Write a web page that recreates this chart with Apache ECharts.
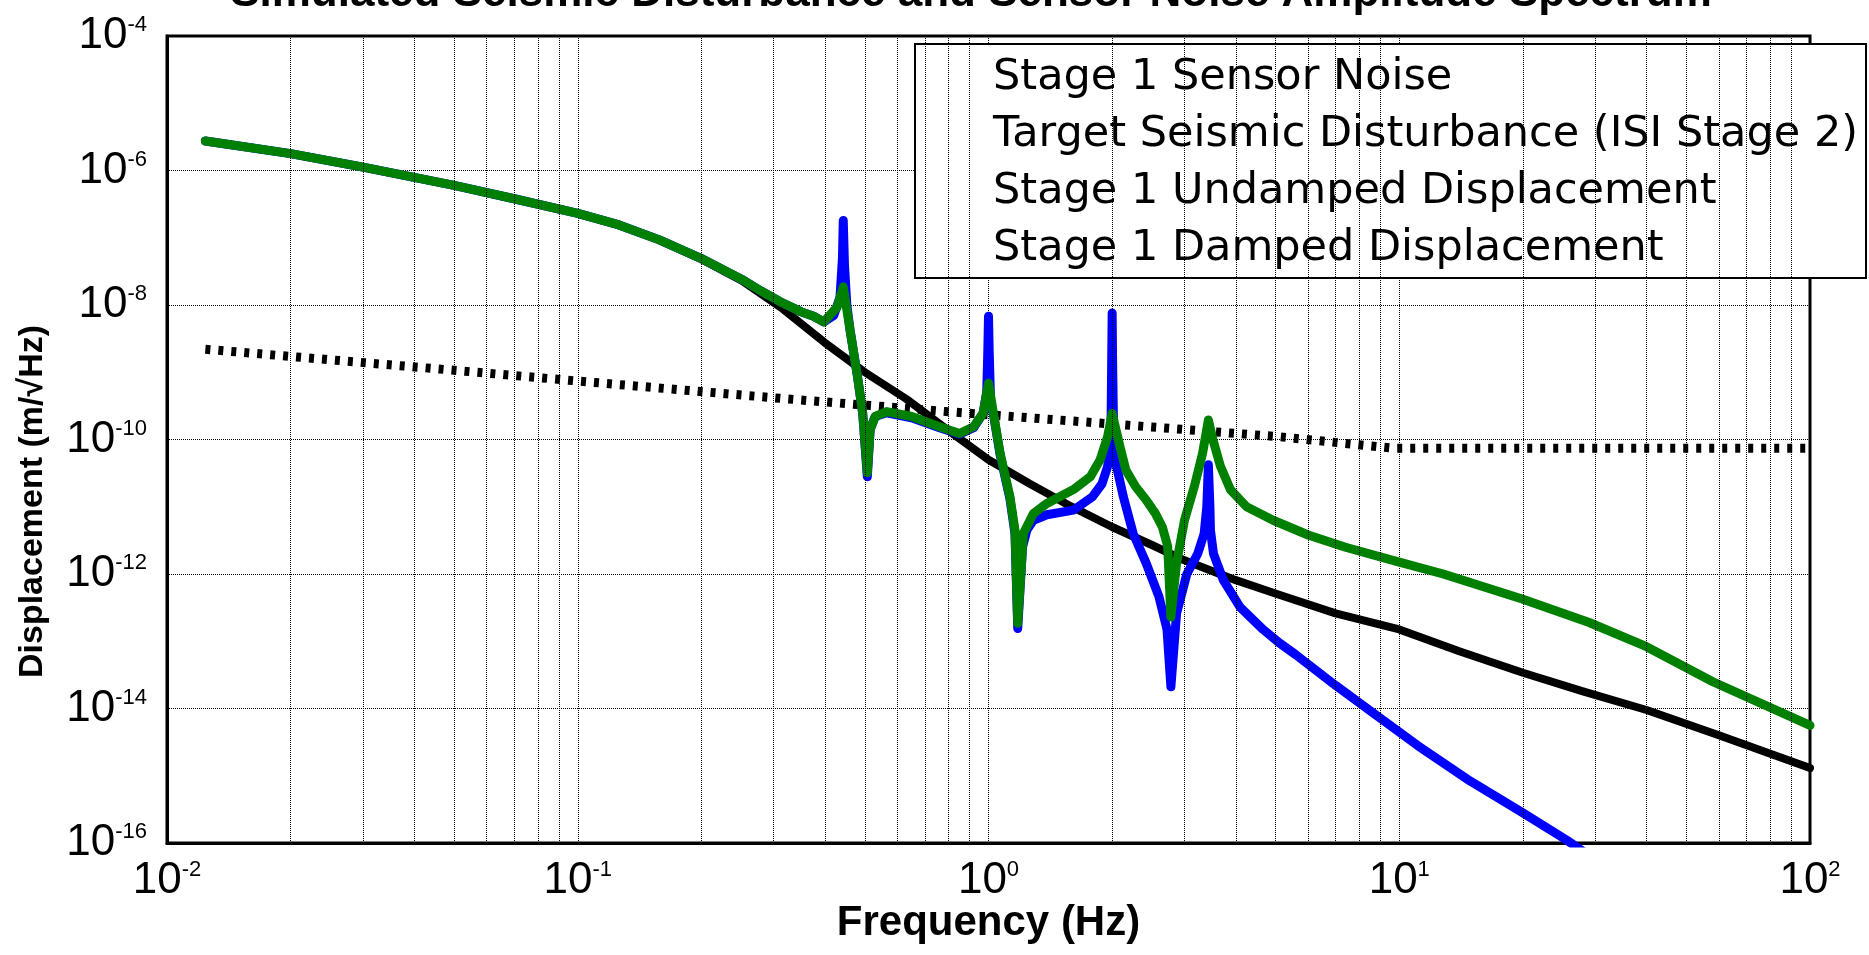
<!DOCTYPE html>
<html lang="en">
<head>
<meta charset="UTF-8">
<title>Seismic Disturbance and Sensor Noise Spectrum</title>
<script src="https://cdn.jsdelivr.net/npm/echarts@6/dist/echarts.min.js"></script>
<style>html,body{margin:0;padding:0;background:#fff;}</style>
</head>
<body>
<div id="main" style="width:1869px;height:955px;"></div>
<script>
// values (frequency in Hz, amplitude in m/rtHz)
var seriesNames = ['Stage 1 Sensor Noise', 'Target Seismic Disturbance (ISI Stage 2)',
  'Stage 1 Undamped Displacement', 'Stage 1 Damped Displacement'];

var noiseFreq = [0.0124, 0.02, 0.03, 0.05, 0.07, 0.1, 0.126, 0.158, 0.2, 0.251, 0.316, 0.398, 0.5, 0.631, 0.794,
  1.0, 1.26, 1.585, 2.0, 2.5, 3.0, 4.0, 5.1, 7.0, 10, 14, 20, 28, 40, 60, 100];
var noiseAmp = [2.75e-6, 1.78e-6, 1.12e-6, 6.0e-7, 3.8e-7, 2.3e-7, 1.55e-7, 9.3e-8, 4.8e-8, 2.3e-8, 8.7e-9, 2.8e-9, 1.0e-9, 4.0e-10, 1.4e-10,
  5.0e-11, 2.2e-11, 1.02e-11, 5.0e-12, 2.7e-12, 1.6e-12, 8.1e-13, 4.9e-13, 2.6e-13, 1.5e-13, 7.1e-14, 3.4e-14, 1.8e-14, 9.5e-15, 4.0e-15, 1.3e-15];

var targetFreq = [0.0124, 0.05, 0.1, 0.31, 0.79, 2.0, 5.1, 9.7, 100];
var targetAmp = [2.2e-9, 1.07e-9, 7.4e-10, 4.1e-10, 2.6e-10, 1.7e-10, 1.1e-10, 7.4e-11, 7.4e-11];

var undampedFreq = [0.0124, 0.02, 0.03, 0.05, 0.07, 0.1, 0.126, 0.158, 0.2, 0.251, 0.28, 0.311, 0.35, 0.375, 0.397, 0.42, 0.435,
  0.441, 0.443, 0.446, 0.452, 0.46, 0.48, 0.494, 0.507, 0.515, 0.53, 0.565, 0.65, 0.76, 0.85, 0.92, 0.97,
  0.99, 0.996, 1.0, 1.004, 1.012, 1.03, 1.067, 1.128, 1.16, 1.178, 1.21, 1.24, 1.286, 1.387, 1.61, 1.79,
  1.89, 1.95, 1.985, 1.995, 2.0, 2.005, 2.02, 2.05, 2.13, 2.25, 2.42, 2.6, 2.72, 2.78, 2.87, 3.04, 3.23,
  3.35, 3.4, 3.43, 3.46, 3.47, 3.53, 3.73, 4.1, 4.66, 5.1, 5.6, 7.0, 8.7, 11.1, 14.9, 20, 25.6, 30];
var undampedAmp = [2.75e-6, 1.78e-6, 1.12e-6, 6.0e-7, 3.8e-7, 2.3e-7, 1.55e-7, 9.3e-8, 4.9e-8, 2.4e-8, 1.6e-8, 1.12e-8, 7.9e-9, 6.8e-9, 5.6e-9, 7.0e-9, 1.3e-8,
  5.0e-8, 1.8e-7, 4.0e-8, 1.0e-8, 4.3e-9, 8.5e-10, 2.45e-10, 2.8e-11, 1.4e-10, 2.2e-10, 2.5e-10, 2.1e-10, 1.5e-10, 1.2e-10, 1.5e-10, 2.45e-10,
  5.0e-10, 2.0e-9, 6.8e-9, 2.0e-9, 3.5e-10, 2.2e-10, 6.0e-11, 1.3e-11, 4.0e-12, 1.55e-13, 2.5e-12, 4.5e-12, 6.3e-12, 7.6e-12, 8.9e-12, 1.4e-11,
  2.2e-11, 4.0e-11, 8.0e-11, 1.5e-9, 7.6e-9, 1.5e-9, 6.0e-11, 4.0e-11, 1.4e-11, 4.0e-12, 1.45e-12, 4.6e-13, 1.5e-13, 2.1e-14, 2.6e-13, 1.0e-12, 2.0e-12,
  4.0e-12, 1.0e-11, 4.2e-11, 1.0e-11, 4.5e-12, 2.0e-12, 8.1e-13, 3.2e-13, 1.5e-13, 9.5e-14, 6.3e-14, 2.2e-14, 8.3e-15, 2.8e-15, 8.3e-16, 2.8e-16, 1.1e-16, 5.6e-17];

var dampedFreq = [0.0124, 0.02, 0.03, 0.05, 0.07, 0.1, 0.126, 0.158, 0.2, 0.251, 0.28, 0.311, 0.35, 0.375, 0.397, 0.428, 0.443,
  0.46, 0.48, 0.494, 0.507, 0.515, 0.53, 0.565, 0.65, 0.76, 0.85, 0.92, 0.97, 1.0, 1.028, 1.067, 1.128, 1.16,
  1.178, 1.216, 1.286, 1.387, 1.61, 1.77, 1.87, 1.95, 2.0, 2.09, 2.16, 2.28, 2.42, 2.55, 2.65, 2.73, 2.78,
  2.87, 3.0, 3.17, 3.32, 3.43, 3.52, 3.67, 3.88, 4.25, 4.93, 6.0, 7.4, 10, 12.8, 20, 29, 40, 58, 100];
var dampedAmp = [2.75e-6, 1.78e-6, 1.12e-6, 6.0e-7, 3.8e-7, 2.3e-7, 1.55e-7, 9.3e-8, 4.9e-8, 2.4e-8, 1.6e-8, 1.12e-8, 7.9e-9, 6.8e-9, 5.6e-9, 9.3e-9, 1.86e-8,
  4.3e-9, 8.5e-10, 2.45e-10, 3.2e-11, 1.4e-10, 2.2e-10, 2.6e-10, 2.2e-10, 1.55e-10, 1.23e-10, 1.55e-10, 2.45e-10, 6.9e-10, 2.45e-10, 6.3e-11, 1.4e-11, 4.5e-12,
  1.86e-13, 4.0e-12, 7.9e-12, 1.12e-11, 1.8e-11, 2.8e-11, 5.0e-11, 1.1e-10, 2.45e-10, 7.8e-11, 3.5e-11, 2.0e-11, 1.26e-11, 7.9e-12, 5.0e-12, 2.6e-12, 2.3e-13,
  1.45e-12, 6.3e-12, 2.0e-11, 6.2e-11, 1.95e-10, 9.8e-11, 4.0e-11, 1.8e-11, 1.0e-11, 6.3e-12, 3.8e-12, 2.5e-12, 1.5e-12, 1.0e-12, 4.2e-13, 1.9e-13, 8.3e-14, 2.5e-14, 5.6e-15];

// minor vertical grid lines of the log frequency axis
var minorFreqs = [0.02, 0.03, 0.04, 0.05, 0.06, 0.07, 0.08, 0.09,
  0.2, 0.3, 0.4, 0.5, 0.6, 0.7, 0.8, 0.9,
  2, 3, 4, 5, 6, 7, 8, 9,
  20, 30, 40, 50, 60, 70, 80, 90];

var FONT = '"Liberation Sans", Arial, Helvetica, sans-serif';

function pairs(f, a) {
  var out = [];
  for (var i = 0; i < f.length; i++) out.push([f[i], a[i]]);
  return out;
}

// "10" with the exponent as superscript
function powerLabel(v) {
  var e = Math.round(Math.log(v) / Math.LN10);
  return '{b|10}{s|' + e + '}';
}
var powerRich = {
  b: {fontSize: 44, lineHeight: 44, fontFamily: FONT, color: '#000'},
  s: {fontSize: 22, lineHeight: 14, fontFamily: FONT, color: '#000', verticalAlign: 'top'}
};

var gridLine = {color: '#000', type: 'dotted', width: 1};

var myChart = echarts.init(document.getElementById('main'));

myChart.setOption({
  animation: false,
  backgroundColor: '#fff',
  title: {
    text: 'Simulated Seismic Disturbance and Sensor Noise Amplitude Spectrum',
    left: 966,
    top: -33,
    textAlign: 'center',
    textStyle: {fontSize: 44, fontWeight: 'bold', fontFamily: FONT, color: '#000'}
  },
  legend: {
    data: seriesNames,
    orient: 'vertical',
    left: 915,
    top: 44,
    icon: 'none',
    itemWidth: 53,
    itemHeight: 14,
    itemGap: 14,
    padding: [12, 8, 8, 20],
    backgroundColor: '#fff',
    borderColor: '#000',
    borderWidth: 2,
    selectedMode: false,
    textStyle: {fontSize: 43, lineHeight: 43, fontFamily: '"DejaVu Sans", sans-serif', color: '#000'}
  },
  grid: {
    left: 167, right: 59, top: 36, bottom: 112,
    show: true, borderColor: '#000', borderWidth: 3, backgroundColor: '#fff',
    outerBoundsMode: 'none'
  },
  xAxis: {
    type: 'log', logBase: 10, min: 0.01, max: 100,
    name: 'Frequency (Hz)', nameLocation: 'middle', nameGap: 59, nameMoveOverlap: false,
    nameTextStyle: {fontSize: 42, lineHeight: 42, fontWeight: 'bold', fontFamily: FONT, color: '#000'},
    axisLine: {lineStyle: {color: '#000', width: 3}},
    axisTick: {show: false},
    axisLabel: {margin: 16, fontFamily: FONT, formatter: powerLabel, rich: powerRich},
    splitLine: {show: true, lineStyle: gridLine}
  },
  yAxis: {
    type: 'log', logBase: 100, min: 1e-16, max: 1e-4,
    name: 'Displacement (m/\u221AHz)', nameLocation: 'middle', nameGap: 114, nameMoveOverlap: false,
    nameTextStyle: {fontSize: 34, lineHeight: 40, fontWeight: 'bold', fontFamily: FONT, color: '#000',
      padding: [0, 124, 0, 0]},
    axisLine: {lineStyle: {color: '#000', width: 3}},
    axisTick: {show: false},
    axisLabel: {margin: 20, fontFamily: FONT, formatter: powerLabel, rich: powerRich},
    splitLine: {show: true, lineStyle: gridLine}
  },
  series: [
    {
      name: 'minor grid', type: 'line', data: [], z: 1, silent: true,
      markLine: {
        silent: true, symbol: 'none', animation: false,
        label: {show: false},
        lineStyle: gridLine,
        data: minorFreqs.map(function (f) { return {xAxis: f}; })
      }
    },
    {
      name: seriesNames[0], type: 'line', z: 3, showSymbol: false, symbol: 'none',
      lineStyle: {color: '#000', width: 8, cap: 'round', join: 'round'},
      itemStyle: {color: '#000'},
      data: pairs(noiseFreq, noiseAmp)
    },
    {
      name: seriesNames[1], type: 'line', z: 3, showSymbol: false, symbol: 'none',
      lineStyle: {color: '#000', width: 9, type: [5, 8], cap: 'butt'},
      itemStyle: {color: '#000'},
      data: pairs(targetFreq, targetAmp)
    },
    {
      name: seriesNames[2], type: 'line', z: 3, showSymbol: false, symbol: 'none',
      lineStyle: {color: '#0000ff', width: 9, cap: 'round', join: 'round'},
      itemStyle: {color: '#0000ff'},
      data: pairs(undampedFreq, undampedAmp)
    },
    {
      name: seriesNames[3], type: 'line', z: 3, showSymbol: false, symbol: 'none',
      lineStyle: {color: '#008000', width: 9, cap: 'round', join: 'round'},
      itemStyle: {color: '#008000'},
      data: pairs(dampedFreq, dampedAmp)
    }
  ]
});
</script>
</body>
</html>
